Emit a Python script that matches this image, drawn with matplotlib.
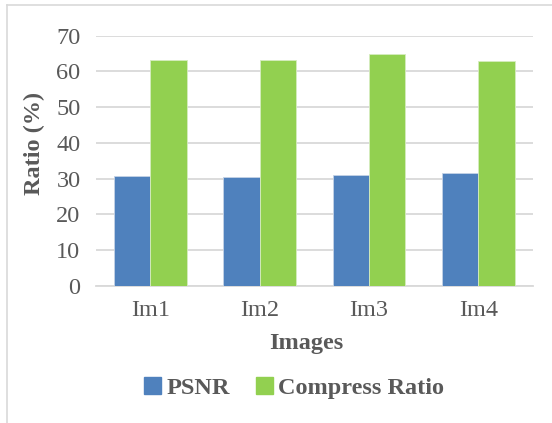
import matplotlib.pyplot as plt
from matplotlib.lines import Line2D
from matplotlib.patches import Patch
import numpy as np

# values per test image
images = ['Im1', 'Im2', 'Im3', 'Im4']
psnr = [30.8, 30.4, 31.0, 31.5]
compress_ratio = [63.2, 63.2, 64.9, 62.9]

blue = '#4f81bd'
green = '#92d050'
grey = '#595959'

plt.rcParams['font.family'] = ['Liberation Serif', 'DejaVu Serif']

fig = plt.figure(figsize=(5.52, 4.23), dpi=100)
ax = fig.add_axes([0.1734, 0.3246, 0.7922, 0.591])

x = np.arange(len(images))
w = 1 / 3
ax.bar(x - w / 2, psnr, w, color=blue, edgecolor='#c5d3e6', linewidth=0.6, zorder=3)
ax.bar(x + w / 2, compress_ratio, w, color=green, edgecolor='#d6ecbf', linewidth=0.6, zorder=3)

ax.set_xlim(-0.5, len(images) - 0.5)
ax.set_ylim(0, 70)
ax.set_yticks(range(0, 71, 10))
ax.set_xticks(x)
ax.set_xticklabels(images)
ax.grid(axis='y', color='#d9d9d9', linewidth=1.3, zorder=0)
ax.tick_params(axis='both', length=0, labelsize=17.5, colors=grey)
ax.tick_params(axis='y', pad=11)
ax.tick_params(axis='x', pad=10)
for s in ['top', 'right', 'left']:
    ax.spines[s].set_visible(False)
ax.spines['bottom'].set_color('#d9d9d9')
ax.spines['bottom'].set_linewidth(1.3)

fig.text(0.063, 0.662, 'Ratio (%)', rotation=90, ha='center', va='center',
         fontsize=17.5, fontweight='bold', color=grey)
fig.text(0.555, 0.189, 'Images', ha='center', va='center',
         fontsize=17.5, fontweight='bold', color=grey)

handles = [Patch(color=blue, label='PSNR'), Patch(color=green, label='Compress Ratio')]
fig.legend(handles=handles, loc='center', bbox_to_anchor=(0.533, 0.083), ncol=2,
           frameon=False, handlelength=0.7, handleheight=0.7, handletextpad=0.2,
           columnspacing=1.1, prop={'size': 17.5, 'weight': 'bold'}, labelcolor=grey)

# chart area border (left and top edges)
fig.add_artist(Line2D([7 / 552, 7 / 552], [0, 1 - 5 / 423], color='#d9d9d9', lw=1.2))
fig.add_artist(Line2D([7 / 552, 1], [1 - 5 / 423, 1 - 5 / 423], color='#d9d9d9', lw=1.2))

fig.savefig('out.png', dpi=100)
